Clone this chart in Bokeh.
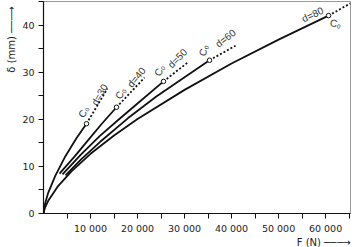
from bokeh.plotting import figure
from bokeh.models import Range1d, FixedTicker, Label, Title
from bokeh.embed import file_html
from bokeh.resources import INLINE

# ---- data: force F (N) vs deflection delta (mm) ----
d30_F = [0, 300, 1000, 2500, 4500, 7000, 9150]
d30_delta = [0, 1.96, 4.4, 8.0, 11.9, 16.0, 19.1]
d40_F = [3400, 6500, 9500, 12500, 15530]
d40_delta = [8.5, 12.0, 15.6, 19.2, 22.6]
d50_F = [4040, 8000, 12000, 16000, 20000, 25530]
d50_delta = [8.3, 12.6, 16.5, 20.0, 23.4, 28.1]
d60_F = [4680, 8000, 12000, 18000, 24000, 30000, 35320]
d60_delta = [8.1, 11.5, 15.2, 20.3, 24.9, 29.0, 32.6]
d80_F = [0, 300, 1000, 3000, 6000, 10000, 15000, 20000, 30000, 40000, 50000, 60640]
d80_delta = [0, 1.2, 2.7, 5.7, 9.0, 12.7, 16.6, 20.1, 26.3, 31.9, 37.0, 42.1]

# dotted extensions beyond C0
ext_F = {"30": [9150, 13600], "40": [15530, 21490], "50": [25530, 30640],
         "60": [35320, 40850], "80": [60640, 65300]}
ext_delta = {"30": [19.1, 26.6], "40": [22.6, 28.9], "50": [28.1, 32.1],
             "60": [32.6, 35.7], "80": [42.1, 44.7]}

diameters = ["30", "40", "50", "60", "80"]
c0_F = [9150, 15530, 25530, 35320, 60640]
c0_delta = [19.1, 22.6, 28.1, 32.6, 42.1]

x_major = [10000, 20000, 30000, 40000, 50000, 60000]
x_minor = [5000, 15000, 25000, 35000, 45000, 55000, 65000]
x_labels = {10000: "10 000", 20000: "20 000", 30000: "30 000",
            40000: "40 000", 50000: "50 000", 60000: "60 000"}
y_major = [0, 10, 20, 30, 40]
y_minor = [5, 15, 25, 35, 45]

FONT = "DejaVu Sans"
LFONT = "Liberation Sans"
INK = "#111111"

p = figure(width=354, height=247, output_backend="svg", toolbar_location=None,
           x_range=Range1d(0, 65300), y_range=Range1d(0, 45.1),
           min_border_left=42, min_border_right=4, min_border_top=1, min_border_bottom=34)
p.background_fill_color = "white"
p.border_fill_color = "white"
p.outline_line_color = "#9a9a9a"
p.outline_line_width = 1
p.grid.visible = False

for ax in (p.xaxis[0], p.yaxis[0]):
    ax.axis_line_color = INK
    ax.axis_line_width = 1.2
    ax.major_tick_line_color = INK
    ax.minor_tick_line_color = INK
    ax.major_tick_in = 0
    ax.major_tick_out = 5
    ax.minor_tick_in = 0
    ax.minor_tick_out = 5
    ax.major_label_text_font = FONT
    ax.major_label_text_font_size = "9.5px"
    ax.major_label_text_color = "#222222"

p.xaxis.ticker = FixedTicker(ticks=x_major, minor_ticks=x_minor)
p.xaxis.major_label_overrides = x_labels
p.xaxis.major_label_standoff = 4
p.yaxis.ticker = FixedTicker(ticks=y_major, minor_ticks=y_minor)
p.yaxis.major_label_standoff = 4

# axis titles (with arrows) placed at the far ends of the axes
p.add_layout(Title(text="\u03b4 (mm) \u2500\u2500\u27f6", align="right", offset=5, standoff=6,
                   text_font=FONT, text_font_size="10px", text_font_style="normal",
                   text_color="#222222"), "left")
p.add_layout(Title(text="F (N) \u2500\u2500\u27f6", align="right", offset=0, standoff=-4,
                   text_font=FONT, text_font_size="10px", text_font_style="normal",
                   text_color="#222222"), "below")

# solid curves
for F, dl in [(d30_F, d30_delta), (d40_F, d40_delta), (d50_F, d50_delta),
              (d60_F, d60_delta), (d80_F, d80_delta)]:
    p.line(F, dl, line_color=INK, line_width=1.8)

# dotted extensions
for d in diameters:
    p.line(ext_F[d], ext_delta[d], line_color=INK, line_width=1.8, line_dash="2 2")

# C0 markers
p.scatter(c0_F, c0_delta, size=4.5, marker="circle", fill_color="white",
          line_color=INK, line_width=1)

# labels: (C0 offset, angle), (d offset, angle)
lab = {
    "30": ((-3, 12, 62), (13, 29, 60)),
    "40": ((4, 14, 60), (20, 30, 50)),
    "50": ((-4, 11, 65), (14, 23, 45)),
    "60": ((-6, 10, 75), (16, 22, 38)),
    "80": ((7, -8, -10), (-16, 1, 25)),
}
for i, d in enumerate(diameters):
    (cx, cy, ca), (dx, dy, da) = lab[d]
    p.add_layout(Label(x=c0_F[i], y=c0_delta[i], x_offset=cx, y_offset=cy,
                       text="C\u2080", angle=ca, angle_units="deg",
                       text_align="center", text_baseline="middle",
                       text_font=LFONT, text_font_size="10px", text_color="#333333"))
    p.add_layout(Label(x=c0_F[i], y=c0_delta[i], x_offset=dx, y_offset=dy,
                       text="d=" + d, angle=da, angle_units="deg",
                       text_align="center", text_baseline="middle",
                       text_font=LFONT, text_font_size="10px", text_color="#333333"))

open("out.html", "w").write(file_html(p, INLINE))
